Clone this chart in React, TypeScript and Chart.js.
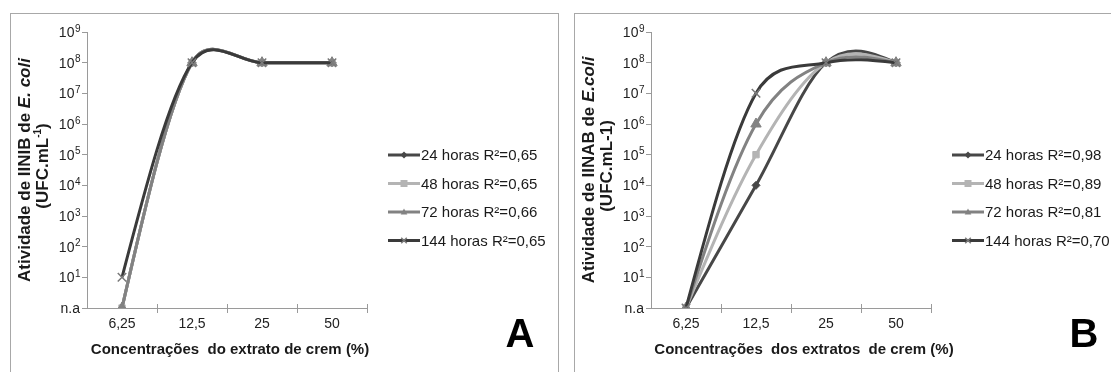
import React, { useEffect, useRef } from "react";
import { Chart, registerables } from "chart.js";

Chart.register(...registerables);

// ---------- data ----------
const categories = ["6,25", "12,5", "25", "50"];
const yTickLabels = ["n.a", "10¹", "10²", "10³", "10⁴", "10⁵", "10⁶", "10⁷", "10⁸", "10⁹"];

const seriesLabelsA = ["24 horas R²=0,65", "48 horas R²=0,65", "72 horas R²=0,66", "144 horas R²=0,65"];
const seriesLabelsB = ["24 horas R²=0,98", "48 horas R²=0,89", "72 horas R²=0,81", "144 horas R²=0,70"];

// value 1 stands for "n.a" (bottom of the log axis)
const a24h = [1, 1e8, 1e8, 1e8];
const a48h = [1, 1e8, 1e8, 1e8];
const a72h = [1, 1e8, 1e8, 1e8];
const a144h = [10, 1e8, 1e8, 1e8];

const b24h = [1, 1e4, 1e8, 1e8];
const b48h = [1, 1e5, 1e8, 1e8];
const b72h = [1, 1e6, 1e8, 1e8];
const b144h = [1, 1e7, 1e8, 1e8];

// ---------- styles ----------
const lineColors = ["#474747", "#b4b4b4", "#828282", "#3a3a3a"];
const pointStyles = ["rectRot", "rect", "triangle", "crossRot"];
const pointRadii = [4, 4.5, 6, 6];
const pointBorderColors = ["#474747", "#b4b4b4", "#828282", "#7a7a7a"];
const AXIS = "#9a9a9a";
const SANS = "'Liberation Sans', Arial, sans-serif";
const TICK_FONT = { family: SANS, size: 14 };
const SUP_MAP: Record<string, string> = {
  "⁰": "0", "¹": "1", "²": "2", "³": "3", "⁴": "4", "⁵": "5", "⁶": "6", "⁷": "7", "⁸": "8", "⁹": "9",
};

type Seg = { t: string; font: string; dy?: number };

function drawRich(ctx: CanvasRenderingContext2D, segs: Seg[]) {
  let total = 0;
  for (const s of segs) {
    ctx.font = s.font;
    total += ctx.measureText(s.t).width;
  }
  let x = -total / 2;
  for (const s of segs) {
    ctx.font = s.font;
    ctx.fillText(s.t, x, s.dy || 0);
    x += ctx.measureText(s.t).width;
  }
}

function drawMarker(ctx: CanvasRenderingContext2D, style: string, x: number, y: number, r: number) {
  ctx.beginPath();
  if (style === "rectRot") {
    ctx.moveTo(x, y - r);
    ctx.lineTo(x + r, y);
    ctx.lineTo(x, y + r);
    ctx.lineTo(x - r, y);
    ctx.closePath();
    ctx.fill();
  } else if (style === "rect") {
    ctx.rect(x - r, y - r, 2 * r, 2 * r);
    ctx.fill();
  } else if (style === "triangle") {
    ctx.moveTo(x, y - r);
    ctx.lineTo(x + r * 0.95, y + r * 0.7);
    ctx.lineTo(x - r * 0.95, y + r * 0.7);
    ctx.closePath();
    ctx.fill();
  } else {
    ctx.moveTo(x - r * 0.7, y - r * 0.7);
    ctx.lineTo(x + r * 0.7, y + r * 0.7);
    ctx.moveTo(x + r * 0.7, y - r * 0.7);
    ctx.lineTo(x - r * 0.7, y + r * 0.7);
    ctx.stroke();
  }
}

// Excel-like smoothing: Catmull-Rom tangents, natural ends, control arms capped
const smoothPlugin = {
  id: "excelSmooth",
  beforeDatasetsDraw(chart: any) {
    chart.getSortedVisibleDatasetMetas().forEach((meta: any) => {
      const line = meta.dataset;
      if (!line) return;
      if (line.updateControlPoints) line.updateControlPoints(chart.chartArea, "x");
      const pts = meta.data;
      const n = pts.length;
      if (n < 3) return;
      const T: { x: number; y: number }[] = [];
      for (let i = 1; i < n - 1; i++) {
        T[i] = { x: (pts[i + 1].x - pts[i - 1].x) / 2, y: (pts[i + 1].y - pts[i - 1].y) / 2 };
      }
      T[0] = {
        x: (3 * (pts[1].x - pts[0].x) - T[1].x) / 2,
        y: (3 * (pts[1].y - pts[0].y) - T[1].y) / 2,
      };
      T[n - 1] = {
        x: (3 * (pts[n - 1].x - pts[n - 2].x) - T[n - 2].x) / 2,
        y: (3 * (pts[n - 1].y - pts[n - 2].y) - T[n - 2].y) / 2,
      };
      const f = 0.5;
      for (let i = 0; i < n; i++) {
        const p = pts[i];
        const ox = T[i].x / 3;
        const oy = T[i].y / 3;
        const len = Math.hypot(ox, oy) || 1;
        if (i < n - 1) {
          const seg = Math.hypot(pts[i + 1].x - p.x, pts[i + 1].y - p.y);
          const s = Math.min(1, (f * seg) / len);
          p.cp2x = p.x + ox * s;
          p.cp2y = p.y + oy * s;
        }
        if (i > 0) {
          const seg = Math.hypot(p.x - pts[i - 1].x, p.y - pts[i - 1].y);
          const s = Math.min(1, (f * seg) / len);
          p.cp1x = p.x - ox * s;
          p.cp1y = p.y - oy * s;
        }
      }
      line._path = undefined;
    });
  },
};

type PanelCfg = {
  letter: string;
  labels: string[];
  series: number[][];
  yTitle1: Seg[];
  yTitle2: Seg[];
  xTitle: string;
  xTitleShift: number;
};

function makeDecor(cfg: PanelCfg) {
  return {
    id: "decor" + cfg.letter,
    afterDraw(chart: any) {
      const ctx: CanvasRenderingContext2D = chart.ctx;
      const ca = chart.chartArea;
      const yScale = chart.scales.y;
      ctx.save();
      // crossing x tick marks at category boundaries
      ctx.strokeStyle = AXIS;
      ctx.lineWidth = 1;
      const n = chart.data.labels.length;
      const w = (ca.right - ca.left) / n;
      ctx.beginPath();
      for (let k = 1; k <= n; k++) {
        const x = Math.round(ca.left + k * w) + 0.5;
        ctx.moveTo(x, ca.bottom - 4);
        ctx.lineTo(x, ca.bottom + 5);
      }
      ctx.stroke();

      // y tick labels with raised exponents
      ctx.fillStyle = "#222";
      ctx.textBaseline = "middle";
      ctx.textAlign = "left";
      const right = ca.left - 7;
      yTickLabels.forEach((lab, i) => {
        const y = yScale.getPixelForValue(Math.pow(10, i));
        const base = lab.startsWith("10") ? "10" : lab;
        const exp = lab.startsWith("10")
          ? lab
              .slice(2)
              .split("")
              .map((c) => SUP_MAP[c] || c)
              .join("")
          : "";
        ctx.font = "14px " + SANS;
        const bw = ctx.measureText(base).width;
        ctx.font = "10px " + SANS;
        const ew = exp ? ctx.measureText(exp).width : 0;
        const x0 = right - bw - ew;
        ctx.font = "14px " + SANS;
        ctx.fillText(base, x0, y + 1);
        if (exp) {
          ctx.font = "10px " + SANS;
          ctx.fillText(exp, x0 + bw + 0.5, y - 3);
        }
      });

      // y title (rotated, two lines)
      ctx.fillStyle = "#1a1a1a";
      const cy = (ca.top + ca.bottom) / 2;
      ctx.save();
      ctx.translate(14, cy);
      ctx.rotate(-Math.PI / 2);
      drawRich(ctx, cfg.yTitle1);
      ctx.restore();
      ctx.save();
      ctx.translate(32, cy - 4);
      ctx.rotate(-Math.PI / 2);
      drawRich(ctx, cfg.yTitle2);
      ctx.restore();

      // x title
      ctx.font = "bold 15px " + SANS;
      ctx.textAlign = "center";
      ctx.fillText(cfg.xTitle, (ca.left + ca.right) / 2 + cfg.xTitleShift, 336);

      // legend
      const lx = ca.right + 21;
      const ly = 141;
      chart.data.datasets.forEach((ds: any, i: number) => {
        const y = ly + i * 28.5;
        ctx.strokeStyle = ds.borderColor;
        ctx.lineWidth = 3;
        ctx.beginPath();
        ctx.moveTo(lx, y);
        ctx.lineTo(lx + 32, y);
        ctx.stroke();
        ctx.fillStyle = ds.borderColor;
        ctx.strokeStyle = ds.pointBorderColor;
        ctx.lineWidth = 1.5;
        drawMarker(ctx, ds.pointStyle, lx + 16, y, i === 3 ? 4 : 3.5);
        ctx.fillStyle = "#1a1a1a";
        ctx.font = "15px " + SANS;
        ctx.textAlign = "left";
        ctx.fillText(ds.label, lx + 33, y + 1);
      });

      // big letter
      ctx.fillStyle = "#000";
      ctx.font = "bold 40px " + SANS;
      ctx.textAlign = "center";
      ctx.fillText(cfg.letter, 509, 322);
      ctx.restore();
    },
  };
}

function Panel({ cfg, left }: { cfg: PanelCfg; left: number }) {
  const ref = useRef<HTMLCanvasElement | null>(null);
  useEffect(() => {
    if (!ref.current) return;
    const datasets = cfg.series.map((d, i) => ({
      label: cfg.labels[i],
      data: d,
      borderColor: lineColors[i],
      backgroundColor: lineColors[i],
      borderWidth: 3,
      tension: 0.4,
      pointStyle: pointStyles[i],
      pointRadius: pointRadii[i],
      pointBackgroundColor: lineColors[i],
      pointBorderColor: pointBorderColors[i],
      pointBorderWidth: i === 3 ? 1.5 : 1,
      order: 3 - i,
    }));
    const chart = new Chart(ref.current, {
      type: "line",
      data: { labels: categories, datasets },
      options: {
        responsive: false,
        animation: false,
        layout: { padding: { top: 18, right: 190, bottom: 0, left: 0 } },
        plugins: { legend: { display: false }, tooltip: { enabled: false } },
        scales: {
          x: {
            type: "category",
            offset: true,
            grid: { offset: true, drawOnChartArea: false, color: "rgba(0,0,0,0)", tickLength: 5 },
            border: { color: AXIS, width: 1 },
            ticks: { font: TICK_FONT, color: "#222", padding: 3, maxRotation: 0, autoSkip: false },
            afterFit: (s: any) => {
              s.height = 64;
            },
          },
          y: {
            type: "logarithmic",
            min: 1,
            max: 1e9,
            afterBuildTicks: (s: any) => {
              s.ticks = yTickLabels.map((_, i) => ({ value: Math.pow(10, i) }));
            },
            ticks: {
              display: false,
              callback: (_v: any, i: number) => yTickLabels[i],
              font: TICK_FONT,
              autoSkip: false,
            },
            grid: { drawOnChartArea: false, tickLength: 5, color: AXIS },
            border: { color: AXIS, width: 1 },
            afterFit: (s: any) => {
              s.width = 76;
            },
          },
        },
      },
      plugins: [smoothPlugin, makeDecor(cfg)],
    } as any);
    return () => chart.destroy();
  }, [cfg]);
  return (
    <div
      style={{
        position: "absolute",
        left,
        top: 13,
        width: 547,
        height: 400,
        border: "1px solid #a8a8a8",
        background: "#fff",
      }}
    >
      <canvas ref={ref} width={546} height={358} style={{ display: "block" }} />
    </div>
  );
}

const bold17 = "bold 17px " + SANS;
const boldIt17 = "italic bold 17px " + SANS;

const panelA: PanelCfg = {
  letter: "A",
  labels: seriesLabelsA,
  series: [a24h, a48h, a72h, a144h],
  yTitle1: [
    { t: "Atividade de IINIB de ", font: bold17 },
    { t: "E. coli", font: boldIt17 },
  ],
  yTitle2: [
    { t: "(UFC.mL", font: bold17 },
    { t: "-1", font: "bold 10px " + SANS, dy: -5 },
    { t: ")", font: bold17 },
  ],
  xTitle: "Concentrações  do extrato de crem (%)",
  xTitleShift: 3,
};

const panelB: PanelCfg = {
  letter: "B",
  labels: seriesLabelsB,
  series: [b24h, b48h, b72h, b144h],
  yTitle1: [
    { t: "Atividade de IINAB de ", font: bold17 },
    { t: "E.coli", font: boldIt17 },
  ],
  yTitle2: [{ t: "(UFC.mL-1)", font: bold17 }],
  xTitle: "Concentrações  dos extratos  de crem (%)",
  xTitleShift: 13,
};

export default function App() {
  return (
    <div
      style={{
        position: "fixed",
        left: 0,
        top: 0,
        width: 1111,
        height: 372,
        overflow: "hidden",
        background: "#fff",
      }}
    >
      <Panel cfg={panelA} left={10} />
      <Panel cfg={panelB} left={574} />
    </div>
  );
}
